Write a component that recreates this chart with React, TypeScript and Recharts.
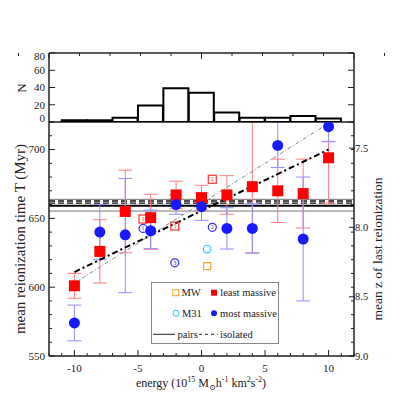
import React from 'react';
import { BarChart, Bar, ComposedChart, Scatter, XAxis, YAxis, ErrorBar, ReferenceLine } from 'recharts';

// top panel: number of pairs per energy bin
const histBins = ['-10', '-8', '-6', '-4', '-2', '0', '2', '4', '6', '8', '10'];
const histCounts = [2, 2, 5, 19, 39, 34, 11, 5, 5, 7, 4];

// main panel: mean reionization time per energy bin
const energy = [-10, -8, -6, -4, -2, 0, 2, 4, 6, 8, 10];
const leastT = [601, 626, 655, 650.5, 667, 665, 667, 673, 670, 668, 694];
const leastErrLow = [9, 23, 30, 23, 10, 9, 14, 48, 23, 25, 33];
const leastErrHigh = [9, 23, 30, 17, 10, 9, 14, 47, 23, 25, 12];
const mostT = [574, 640, 638, 641, 660, 658.5, 642.7, 642.7, 703, 635, 716.6];
const mostErrLow = [13, 20, 42, 13, 7, 10, 15, 18, 16, 45, 11];
// last one is cut at the top of the panel in the original
const mostErrHigh = [13, 20, 41, 15, 7, 10, 15, 18, 17, 45, 3.4];

// individual pairs (open, numbered symbols)
const pairIds = ['1', '3', '2'];
const pairEnergy = [-4.6, -2.1, 0.85];
const pairLeastT = [649.5, 644.4, 678.4];
const pairMostT = [642.7, 617.7, 643.5];

const mwEnergy = [0.45];
const mwT = [615.3];
const m31Energy = [0.45];
const m31T = [627.7];

// linear fits
const fitX = [-10, 10];
const fitLeast = [611, 700];
const fitMost = [603, 719];

// pairs vs isolated means
const pairsMean = 659.2;
const pairsBand = [655.3, 663.8];
const isolatedBand = [661.1, 662.6];

// axes
const xTicks = [-12, -11, -10, -9, -8, -7, -6, -5, -4, -3, -2, -1, 0, 1, 2, 3, 4, 5, 6, 7, 8, 9, 10, 11, 12];
const xMajor = [-10, -5, 0, 5, 10];
const tTicks = [550, 560, 570, 580, 590, 600, 610, 620, 630, 640, 650, 660, 670, 680, 690, 700, 710, 720];
const tMajor = [550, 600, 650, 700];
const zLabels = ['7.5', '8.0', '8.5', '9.0'];
const zAtT = [701, 643.5, 593, 550];
const nTicks = [0, 20, 40, 60, 80];

const INK = '#222';
const FONT = "'Liberation Serif', 'DejaVu Serif', serif";
const axisLine = { stroke: INK, strokeWidth: 1.5 };

type Side = 'bottom' | 'top' | 'left' | 'right';

// ticks point inward (IDL style); x/y arrive on the axis line because tickSize and tickMargin are 0
function makeTick(side: Side, major: number[], label?: (v: number) => string | null, shift?: (v: number) => number) {
  return (p: any) => {
    const v = p.payload.value as number;
    const isMajor = major.includes(v);
    const len = isMajor ? 6 : 3;
    const { x, y } = p;
    let line;
    if (side === 'bottom') line = <line x1={x} x2={x} y1={y} y2={y - len} stroke={INK} />;
    else if (side === 'top') line = <line x1={x} x2={x} y1={y} y2={y + len} stroke={INK} />;
    else if (side === 'left') line = <line x1={x} x2={x + len} y1={y} y2={y} stroke={INK} />;
    else line = <line x1={x} x2={x - len} y1={y} y2={y} stroke={INK} />;
    const txt = label && isMajor ? label(v) : null;
    const dy = shift ? shift(v) : 0;
    let t = null;
    if (txt != null) {
      if (side === 'bottom') t = <text x={x} y={y + 16} textAnchor="middle" fontSize={11} fill={INK}>{txt}</text>;
      else if (side === 'left') t = <text x={x - 4} y={y + dy} dy="0.35em" textAnchor="end" fontSize={11} fill={INK}>{txt}</text>;
      else if (side === 'right') t = <text x={x} y={y + dy} dy="0.35em" textAnchor="start" fontSize={10.5} fill={INK}>{txt}</text>;
    }
    return <g>{line}{t}</g>;
  };
}

const redSquare = (p: any) => <rect x={p.cx - 5.5} y={p.cy - 5.5} width={11} height={11} fill="#ff0000" />;
const blueDot = (p: any) => <circle cx={p.cx} cy={p.cy} r={5.5} fill="#1a1aff" />;
const noMark = () => <g />;
const openSquare = (color: string, s: number) => (p: any) => (
  <g>
    <rect x={p.cx - s / 2} y={p.cy - s / 2} width={s} height={s} fill="none" stroke={color} strokeWidth={1.2} />
    {p.payload.id && <text x={p.cx} y={p.cy + 2} fontSize={6} textAnchor="middle" fill={color}>{p.payload.id}</text>}
  </g>
);
const openCircle = (color: string, r: number) => (p: any) => (
  <g>
    <circle cx={p.cx} cy={p.cy} r={r} fill="none" stroke={color} strokeWidth={1.2} />
    {p.payload.id && <text x={p.cx} y={p.cy + 2} fontSize={6} textAnchor="middle" fill={color}>{p.payload.id}</text>}
  </g>
);

const Rotated = ({ x, y, size, children }: any) => (
  <div style={{ position: 'absolute', left: x, top: y, transform: 'translate(-50%, -50%) rotate(-90deg)', whiteSpace: 'nowrap', fontSize: size, lineHeight: 1, color: INK }}>
    {children}
  </div>
);

export default function App() {
  const histRows = histBins.map((b, i) => ({ bin: b, n: histCounts[i] }));
  const leastRows = energy.map((x, i) => ({ x, y: leastT[i], err: [leastErrLow[i], leastErrHigh[i]] }));
  const mostRows = energy.map((x, i) => ({ x, y: mostT[i], err: [mostErrLow[i], mostErrHigh[i]] }));
  const pairLeastRows = pairEnergy.map((x, i) => ({ x, y: pairLeastT[i], id: pairIds[i] }));
  const pairMostRows = pairEnergy.map((x, i) => ({ x, y: pairMostT[i], id: pairIds[i] }));
  const mwRows = mwEnergy.map((x, i) => ({ x, y: mwT[i] }));
  const m31Rows = m31Energy.map((x, i) => ({ x, y: m31T[i] }));

  const tLabel = (v: number) => String(v);
  const zLabel = (v: number) => zLabels[zAtT.indexOf(v)];
  const sup = { fontSize: 8, lineHeight: 0 };

  return (
    <div style={{ position: 'absolute', left: 0, top: 0, width: 407, height: 407, background: '#fff', fontFamily: FONT, overflow: 'hidden' }}>
      <div style={{ position: 'absolute', left: 0, top: 0 }}>
        <ComposedChart width={407} height={407} margin={{ top: 121, right: 51, bottom: 50, left: 48 }}>
          <XAxis xAxisId="b" type="number" dataKey="x" domain={[-12, 12]} allowDataOverflow ticks={xTicks} interval={0}
            height={1} tickSize={0} tickMargin={0} tickLine={false} axisLine={axisLine} tick={makeTick('bottom', xMajor, tLabel)} />
          <XAxis xAxisId="t" orientation="top" type="number" domain={[-12, 12]} allowDataOverflow ticks={xTicks} interval={0}
            height={1} tickSize={0} tickMargin={0} tickLine={false} axisLine={axisLine} tick={makeTick('top', xMajor)} />
          <YAxis yAxisId="l" type="number" dataKey="y" domain={[550, 720]} allowDataOverflow ticks={tTicks} interval={0}
            width={1} tickSize={0} tickMargin={0} tickLine={false} axisLine={axisLine} tick={makeTick('left', tMajor, tLabel)} />
          <YAxis yAxisId="rt" orientation="right" type="number" domain={[550, 720]} allowDataOverflow ticks={tTicks} interval={0}
            width={1} tickSize={0} tickMargin={0} tickLine={false} axisLine={axisLine} tick={makeTick('right', [])} />
          <YAxis yAxisId="rz" orientation="right" type="number" domain={[550, 720]} allowDataOverflow ticks={zAtT} interval={0}
            width={1} tickSize={0} tickMargin={0} tickLine={false} axisLine={false} tick={makeTick('right', zAtT, zLabel)} />

          <ReferenceLine xAxisId="b" yAxisId="l" y={pairsBand[1]} stroke="#777" strokeWidth={1} />
          <ReferenceLine xAxisId="b" yAxisId="l" y={pairsBand[0]} stroke="#777" strokeWidth={1} />
          <ReferenceLine xAxisId="b" yAxisId="l" y={isolatedBand[1]} stroke="#111" strokeWidth={1.3} strokeDasharray="6 3" />
          <ReferenceLine xAxisId="b" yAxisId="l" y={isolatedBand[0]} stroke="#111" strokeWidth={1.3} strokeDasharray="6 3" />
          <ReferenceLine xAxisId="b" yAxisId="l" y={pairsMean} stroke="#000" strokeWidth={2} />

          <Scatter xAxisId="b" yAxisId="l" data={leastRows} shape={noMark} isAnimationActive={false}>
            <ErrorBar dataKey="err" direction="y" width={7} stroke="#ff7d7d" strokeWidth={1} />
          </Scatter>
          <Scatter xAxisId="b" yAxisId="l" data={mostRows} shape={noMark} isAnimationActive={false}>
            <ErrorBar dataKey="err" direction="y" width={7} stroke="#8f8fff" strokeWidth={1} />
          </Scatter>

          <ReferenceLine xAxisId="b" yAxisId="l" segment={[{ x: fitX[0], y: fitMost[0] }, { x: fitX[1], y: fitMost[1] }]}
            stroke="#888" strokeWidth={1} strokeDasharray="4 2 1 2" />
          <ReferenceLine xAxisId="b" yAxisId="l" segment={[{ x: fitX[0], y: fitLeast[0] }, { x: fitX[1], y: fitLeast[1] }]}
            stroke="#000" strokeWidth={2} strokeDasharray="6 3 2 3" />

          <Scatter xAxisId="b" yAxisId="l" data={pairLeastRows} shape={openSquare('#ff3030', 8)} isAnimationActive={false} />
          <Scatter xAxisId="b" yAxisId="l" data={pairMostRows} shape={openCircle('#3030ff', 4)} isAnimationActive={false} />
          <Scatter xAxisId="b" yAxisId="l" data={mwRows} shape={openSquare('#ffa030', 7)} isAnimationActive={false} />
          <Scatter xAxisId="b" yAxisId="l" data={m31Rows} shape={openCircle('#30c8ff', 3.8)} isAnimationActive={false} />
          <Scatter xAxisId="b" yAxisId="l" data={leastRows} shape={redSquare} isAnimationActive={false} />
          <Scatter xAxisId="b" yAxisId="l" data={mostRows} shape={blueDot} isAnimationActive={false} />
        </ComposedChart>
      </div>

      <div style={{ position: 'absolute', left: 0, top: 0 }}>
        <BarChart width={407} height={130} data={histRows} margin={{ top: 52, right: 52, bottom: 7, left: 48 }} barCategoryGap={0} barGap={0}>
          <XAxis xAxisId="cat" dataKey="bin" type="category" hide padding={{ left: 12.7, right: 12.7 }} />
          <XAxis xAxisId="hb" type="number" domain={[-12, 12]} allowDataOverflow ticks={xTicks} interval={0}
            height={1} tickSize={0} tickMargin={0} tickLine={false} axisLine={axisLine} tick={makeTick('bottom', xMajor)} />
          <XAxis xAxisId="ht" orientation="top" type="number" domain={[-12, 12]} allowDataOverflow ticks={xTicks} interval={0}
            height={1} tickSize={0} tickMargin={0} tickLine={false} axisLine={axisLine} tick={makeTick('top', xMajor)} />
          <YAxis yAxisId="n" type="number" domain={[0, 80]} allowDataOverflow ticks={nTicks} interval={0}
            width={1} tickSize={0} tickMargin={0} tickLine={false} axisLine={axisLine}
            tick={makeTick('left', nTicks, tLabel, (v) => (v === 80 ? 3.5 : v === 0 ? -3.5 : 0))} />
          <YAxis yAxisId="nr" orientation="right" type="number" domain={[0, 80]} allowDataOverflow ticks={nTicks} interval={0}
            width={1} tickSize={0} tickMargin={0} tickLine={false} axisLine={axisLine} tick={makeTick('right', nTicks)} />
          <Bar xAxisId="cat" yAxisId="n" dataKey="n" fill="#fff" stroke="#000" strokeWidth={2} isAnimationActive={false} />
        </BarChart>
      </div>

      <Rotated x={21} y={88} size={13}>N</Rotated>
      <Rotated x={20} y={239} size={15}>mean reionization time T (Myr)</Rotated>
      <Rotated x={378} y={249} size={13.5}>mean z of last reionization</Rotated>
      <div style={{ position: 'absolute', left: 201, top: 383, transform: 'translate(-50%, -50%)', whiteSpace: 'nowrap', fontSize: 12, lineHeight: 1, color: INK }}>
        energy (10<sup style={sup}>15</sup> M<sub style={sup}>⊙</sub>h<sup style={sup}>-1</sup> km<sup style={sup}>2</sup>s<sup style={sup}>-2</sup>)
      </div>

      <svg style={{ position: 'absolute', left: 151, top: 282 }} width={128} height={62}>
        <rect x={0.5} y={0.5} width={127} height={61} fill="#fff" stroke="#888" />
        <rect x={21.7} y={7.7} width={6} height={6} fill="none" stroke="#ffa030" />
        <text x={30.5} y={10.7} dy="0.35em" fontSize={10.5} fill={INK}>MW</text>
        <rect x={60} y={7.7} width={6} height={6} fill="#ff0000" />
        <text x={69.3} y={10.7} dy="0.35em" fontSize={10.5} fill={INK}>least massive</text>
        <circle cx={25} cy={31.3} r={3} fill="none" stroke="#30c8ff" />
        <text x={31} y={31.3} dy="0.35em" fontSize={10.5} fill={INK}>M31</text>
        <circle cx={63} cy={31.3} r={3} fill="#1a1aff" />
        <text x={69} y={31.3} dy="0.35em" fontSize={10.5} fill={INK}>most massive</text>
        <line x1={2.3} x2={24} y1={52.3} y2={52.3} stroke={INK} />
        <text x={26.5} y={52.3} dy="0.35em" fontSize={10.5} fill={INK}>pairs</text>
        <line x1={48} x2={67} y1={52.3} y2={52.3} stroke={INK} strokeDasharray="3 3" />
        <text x={69} y={52.3} dy="0.35em" fontSize={10.5} fill={INK}>isolated</text>
      </svg>
    </div>
  );
}
